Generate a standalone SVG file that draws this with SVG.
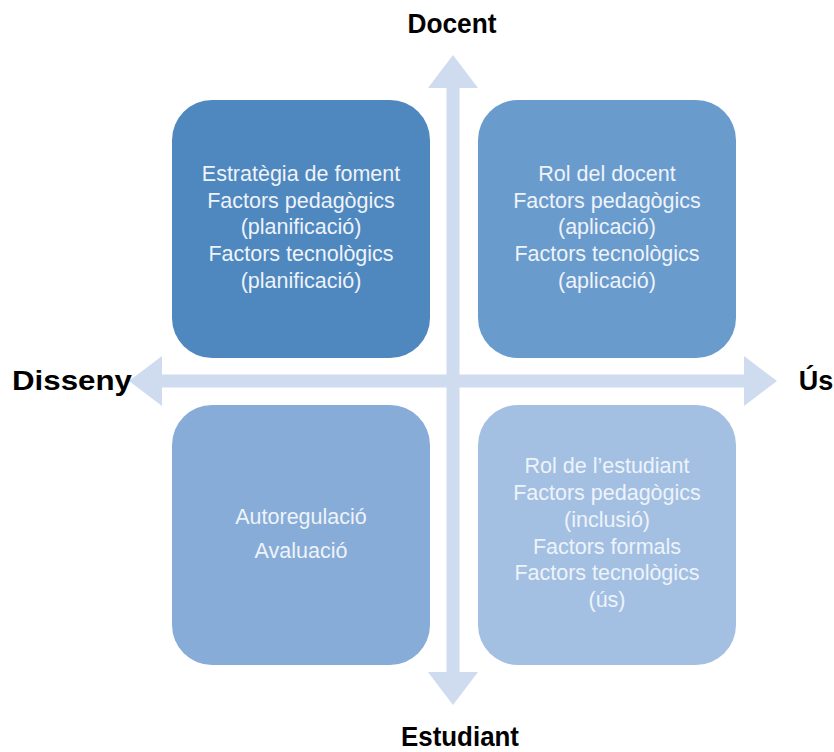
<svg xmlns="http://www.w3.org/2000/svg" width="834" height="752" viewBox="0 0 834 752">
<style>
.box{stroke:none}
.t{font-family:"Liberation Sans",Arial,sans-serif;font-size:21.5px;fill:#eef3fa;text-anchor:middle}
.ax{font-family:"Liberation Sans",Arial,sans-serif;font-size:27px;font-weight:bold;fill:#000;text-anchor:middle}
.arr{fill:#cfdbee}
</style>
<rect width="834" height="752" fill="#ffffff"/>
<g id="connectors">
<polygon class="arr" points="129,381 162,356 162,374.5 744,374.5 744,356 777,381 744,406 744,387.5 162,387.5 162,406"/>
<polygon class="arr" points="453,55 478,88 459.5,88 459.5,672 478,672 453,705 428,672 446.5,672 446.5,88 428,88"/>
</g>
<g id="node-tl">
<rect class="box" x="172" y="100" width="258" height="258" rx="40" fill="#4f87bf"/>
<text class="t" x="301" y="181">Estratègia de foment</text>
<text class="t" x="301" y="208">Factors pedagògics</text>
<text class="t" x="301" y="234">(planificació)</text>
<text class="t" x="301" y="261">Factors tecnològics</text>
<text class="t" x="301" y="288">(planificació)</text>
</g>
<g id="node-tr">
<rect class="box" x="478" y="100" width="258" height="258" rx="40" fill="#6a9bcd"/>
<text class="t" x="607" y="181">Rol del docent</text>
<text class="t" x="607" y="208">Factors pedagògics</text>
<text class="t" x="607" y="234">(aplicació)</text>
<text class="t" x="607" y="261">Factors tecnològics</text>
<text class="t" x="607" y="288">(aplicació)</text>
</g>
<g id="node-bl">
<rect class="box" x="172" y="405" width="258" height="260" rx="40" fill="#87acd7"/>
<text class="t" x="301" y="524">Autoregulació</text>
<text class="t" x="301" y="558">Avaluació</text>
</g>
<g id="node-br">
<rect class="box" x="478" y="405" width="258" height="260" rx="40" fill="#a3c0e3"/>
<text class="t" x="607" y="473">Rol de l’estudiant</text>
<text class="t" x="607" y="500">Factors pedagògics</text>
<text class="t" x="607" y="527">(inclusió)</text>
<text class="t" x="607" y="554">Factors formals</text>
<text class="t" x="607" y="580">Factors tecnològics</text>
<text class="t" x="607" y="607">(ús)</text>
</g>
<g id="label-docent"><text class="ax" x="452" y="33" textLength="89" lengthAdjust="spacingAndGlyphs">Docent</text></g>
<g id="label-disseny"><text class="ax" x="72" y="390" textLength="120" lengthAdjust="spacingAndGlyphs">Disseny</text></g>
<g id="label-us"><text class="ax" x="816" y="390">Ús</text></g>
<g id="label-estudiant"><text class="ax" x="460" y="746" textLength="118" lengthAdjust="spacingAndGlyphs">Estudiant</text></g>
</svg>
